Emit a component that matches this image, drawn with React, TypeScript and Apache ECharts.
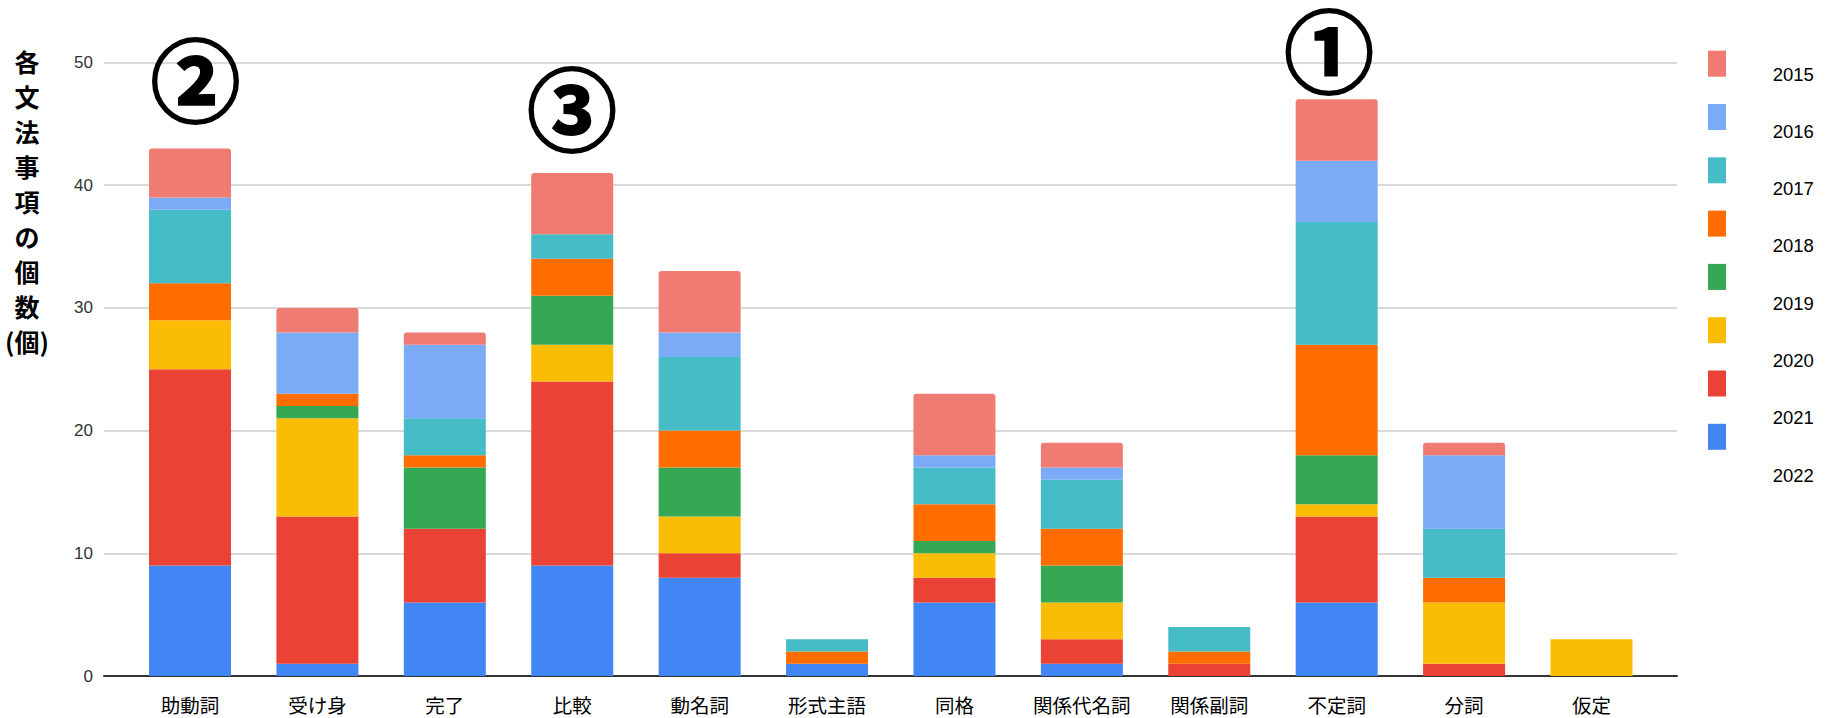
import React, { useEffect, useRef } from "react";
import * as echarts from "echarts";

const categories = ["助動詞", "受け身", "完了", "比較", "動名詞", "形式主語", "同格", "関係代名詞", "関係副詞", "不定詞", "分詞", "仮定"];

// stacked from the bottom (2022) to the top (2015)
const y2022 = [9, 1, 6, 9, 8, 1, 6, 1, 0, 6, 0, 0];
const y2021 = [16, 12, 6, 15, 2, 0, 2, 2, 1, 7, 1, 0];
const y2020 = [4, 8, 0, 3, 3, 0, 2, 3, 0, 1, 5, 3];
const y2019 = [0, 1, 5, 4, 4, 0, 1, 3, 0, 4, 0, 0];
const y2018 = [3, 1, 1, 3, 3, 1, 3, 3, 1, 9, 2, 0];
const y2017 = [6, 0, 3, 2, 6, 1, 3, 4, 2, 10, 4, 0];
const y2016 = [1, 5, 6, 0, 2, 0, 1, 1, 0, 5, 6, 0];
const y2015 = [4, 2, 1, 5, 5, 0, 5, 2, 0, 5, 1, 0];

const seriesNames = ["2022", "2021", "2020", "2019", "2018", "2017", "2016", "2015"];
const seriesValues = [y2022, y2021, y2020, y2019, y2018, y2017, y2016, y2015];
const seriesColors = ["#4285F4", "#EA4335", "#FBBC04", "#34A853", "#FF6D01", "#46BDC6", "#7BAAF7", "#F07B72"];
const legendOrder = ["2015", "2016", "2017", "2018", "2019", "2020", "2021", "2022"];

const yTicks = { min: 0, max: 50, interval: 10 };
const yTitle = "各\n文\n法\n事\n項\nの\n個\n数\n(個)";
const marks = [
  { text: "②", x: 195.5, y: 76 },
  { text: "③", x: 572, y: 105 },
  { text: "①", x: 1329, y: 47 },
];

export default function App() {
  const ref = useRef<HTMLDivElement>(null);
  useEffect(() => {
    if (!ref.current) return;
    const chart = echarts.init(ref.current, null, { renderer: "svg" });

    const topIdx = categories.map((_, ci) => {
      let t = -1;
      seriesValues.forEach((vals, si) => {
        if (vals[ci] > 0) t = si;
      });
      return t;
    });
    const totals = categories.map((_, ci) => seriesValues.reduce((s, v) => s + v[ci], 0));

    const series: any[] = seriesNames.map((name, si) => ({
      name,
      type: "bar",
      stack: "total",
      xAxisIndex: 1,
      yAxisIndex: 1,
      barWidth: 82,
      itemStyle: { color: seriesColors[si] },
      data: seriesValues[si].map((v, ci) =>
        topIdx[ci] === si && totals[ci] > 5
          ? { value: v, itemStyle: { borderRadius: [3, 3, 0, 0] } }
          : v
      ),
    }));

    const font = "'Liberation Sans', Arial, sans-serif";
    const cjk = "'Noto Sans CJK JP', sans-serif";

    chart.setOption({
      animation: false,
      backgroundColor: "#ffffff",
      legend: [
        {
          // colour swatches
          orient: "vertical",
          left: 1708,
          top: 50.7,
          padding: 0,
          itemWidth: 18,
          itemHeight: 26,
          itemGap: 27.3,
          icon: "rect",
          selectedMode: false,
          data: legendOrder,
          formatter: () => "",
          textStyle: { fontSize: 8, lineHeight: 8 },
        },
        {
          // year labels
          orient: "vertical",
          left: 1767.7,
          top: 63,
          padding: 0,
          itemWidth: 0,
          itemHeight: 0,
          itemGap: 35.3,
          icon: "rect",
          itemStyle: { opacity: 0 },
          selectedMode: false,
          data: legendOrder,
          textStyle: {
            fontFamily: font,
            fontSize: 18.5,
            color: "#000",
            lineHeight: 22,
          },
        },
      ],
      grid: [
        { left: 104, right: 153, top: 62.5, bottom: 42 },
        { left: 126.3, right: 174.8, top: 62.5, bottom: 42 },
      ],
      xAxis: [
        {
          type: "value",
          gridIndex: 0,
          min: 0,
          max: 1,
          axisLine: { show: true, lineStyle: { color: "#333", width: 2 } },
          axisTick: { show: false },
          axisLabel: { show: false },
          splitLine: { show: false },
        },
        {
          type: "category",
          gridIndex: 1,
          data: categories,
          axisLine: { show: false },
          axisTick: { show: false },
          axisLabel: { interval: 0, margin: 19, fontSize: 19.5, color: "#000", fontFamily: cjk },
        },
      ],
      yAxis: [
        {
          type: "value",
          gridIndex: 0,
          min: yTicks.min,
          max: yTicks.max,
          interval: yTicks.interval,
          axisLine: { show: false },
          axisTick: { show: false },
          axisLabel: { margin: 11, fontSize: 17, color: "#333", fontFamily: font },
          splitLine: { show: true, lineStyle: { color: "#cccccc", width: 1.5 } },
        },
        {
          type: "value",
          gridIndex: 1,
          min: yTicks.min,
          max: yTicks.max,
          interval: yTicks.interval,
          show: false,
          splitLine: { show: false },
        },
      ],
      graphic: [
        {
          type: "text",
          x: 27,
          y: 43,
          style: {
            text: yTitle,
            fontSize: 25,
            fontWeight: "bold",
            fontFamily: cjk,
            fill: "#000",
            lineHeight: 35,
            align: "center",
            verticalAlign: "top",
          },
        },
        ...marks.map((m) => ({
          type: "text",
          x: m.x,
          y: m.y,
          z: 100,
          style: {
            text: m.text,
            fontSize: 90,
            lineHeight: 84,
            fontWeight: "bold",
            fontFamily: cjk,
            fill: "#000",
            stroke: "#000",
            lineWidth: 2,
            align: "center",
            verticalAlign: "middle",
          },
        })),
      ],
      series,
    });
    return () => chart.dispose();
  }, []);
  return (
    <div
      ref={ref}
      style={{ position: "fixed", left: 0, top: 0, width: 1830, height: 718 }}
    />
  );
}
